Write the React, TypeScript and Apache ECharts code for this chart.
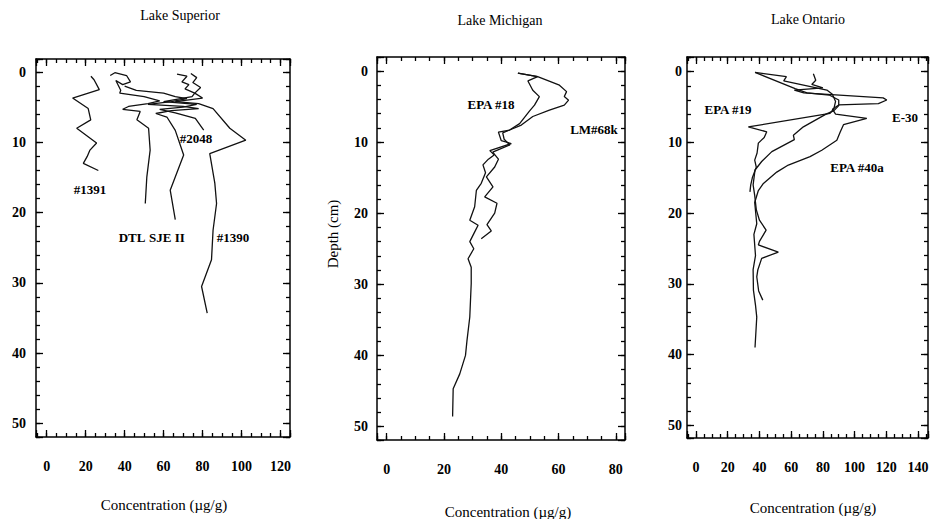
import React, { useEffect, useRef } from "react";
import * as echarts from "echarts";

type Pt = [number, number];

// ---- Lake Superior: [concentration µg/g, depth cm]
const sup1391: Pt[] = [[22.7,0.6],[24.3,1.1],[27.0,2.5],[13.3,3.7],[21.3,5.2],[22.6,6.8],[15.4,8.0],[25.6,10.1],[22.2,11.1],[20.8,12.0],[18.8,13.0],[26.5,14.0]];
const supDTL: Pt[] = [[32.6,0.5],[35,0.1],[41,0.5],[43,1.4],[39,1.8],[35.5,1.2],[38,2.6],[37.5,3.0],[50,3.5],[58,4.1],[52,4.5],[42,4.9],[39,5.3],[48,5.6],[46.3,6.8],[52.3,8],[53.1,11.1],[51.4,14.9],[50.6,18.7]];
const supSJE: Pt[] = [[40,2.0],[46,2.6],[60,3.0],[66,3.5],[72,3.8],[64,4.2],[52,4.6],[70,4.9],[78,5.2],[64,5.5],[56,5.9],[61.7,6.4],[66,8.3],[70.3,11.8],[63.4,16.8],[66,21]];
const sup2048: Pt[] = [[66.9,0.3],[72,0.6],[69.4,1.4],[73,1.8],[71,2.4],[76,3.0],[74.6,3.5],[60,4.2],[77,4.6],[70,5.0],[58,5.3],[66,5.8],[76.3,6.6],[80.6,8.25]];
const sup1390: Pt[] = [[74,0.2],[77,0.8],[75,1.5],[79,2.2],[76,3.0],[80,3.7],[66,4.2],[78,4.5],[85.4,5.2],[94,8],[102.2,9.7],[83.7,11.6],[86.3,15.8],[87.2,18.7],[85.4,22.5],[84.6,26.7],[79.5,30.5],[82.4,34.3]];

// ---- Lake Michigan
const mich18: Pt[] = [[45.8,0.3],[52.7,0.8],[49.3,1.4],[51,2.7],[53.3,3.6],[51.6,4.8],[49.9,5.6],[46.4,7.4],[42.9,8.3],[39,8.6],[40,9.8],[43.5,10.2],[36,11.2],[37.5,11.8],[35.5,12.4],[33.6,13.2],[34.5,14.3],[33,15.8],[31.3,16.8],[30.7,19.1],[29,21],[31.9,21.7],[30.5,22.8],[29,24],[30.4,25],[28.4,26.4],[29.5,27.6],[29.5,29.9],[29,34.6],[28,38],[27.5,40],[25.5,42.6],[23.2,44.7],[23,48.6]];
const mich68k: Pt[] = [[45.8,0.3],[52.7,0.8],[60.3,2],[62.8,2.9],[62,3.6],[63.5,4.1],[62,4.8],[56.8,5.5],[51,6.4],[47,7.6],[42.9,8.3],[40.5,8.7],[41,9.6],[43,10.4],[37,11.4],[39,12.4],[37.7,13.5],[34.8,14.9],[37.1,16.3],[34.2,17.7],[38.5,18.6],[37.7,20],[35,21.6],[36.5,22.5],[33,23.6]];

// ---- Lake Ontario
const ont19: Pt[] = [[37.2,0.1],[57,0.7],[55.3,1.3],[82.5,2.6],[86,3.2],[88,4.2],[87,5.2],[84.5,5.9],[33,7.8],[44.6,8.5],[43,9.3],[39.3,10.1],[38.5,11.5],[37,12.5],[38,13.5],[35.5,15],[34.5,16],[34,17]];
const ontE30: Pt[] = [[74,0.3],[75.5,1.2],[73,1.8],[80,2.3],[62,2.6],[68,3.0],[118,3.7],[120.3,4.0],[115,4.5],[90,4.7],[86,5.3],[88,6.0],[107.7,6.6],[93,7.5],[91,8.5],[88.8,9.7],[79.3,11.1],[71.9,12],[58.2,13.2],[50.9,14.2],[42.5,15.8],[39.3,16.8],[37,18.5],[38.3,21.5],[36.5,23],[37.5,26],[36,28],[36.2,30.9],[37.5,33],[38.3,34.7],[37.2,39]];
const ont40a: Pt[] = [[37.2,0.1],[62.5,2.4],[70,3.0],[84,3.3],[90,4.0],[90,4.8],[87,5.5],[82,6.0],[67.7,7.8],[61.4,9],[62,9.6],[47.8,11.3],[41.4,12.7],[37.2,13.9],[36,16],[37,17.5],[38,19.5],[40,21],[44.2,22.4],[40,24],[39.3,24.5],[51.9,25.5],[41.4,26.4],[39,28],[38.3,29],[39.5,31],[42.1,32.3]];

const panelTitles = ["Lake Superior", "Lake Michigan", "Lake Ontario"];
const panelSeries: Pt[][][] = [
  [sup1391, supDTL, supSJE, sup2048, sup1390],
  [mich18, mich68k],
  [ont19, ontE30, ont40a],
];
const xRanges: [number, number][] = [[-5.5, 124.9], [-3.4, 83.2], [-5.7, 146.3]];
const yRanges: [number, number][] = [[-1.85, 51.9], [-1.97, 51.9], [-2.08, 51.8]];
const xMajor = 20, xMinor = 5, yMajor = 10, yMinor = 2;

const FONT = "'Liberation Serif', 'Times New Roman', serif";

const grids = [
  { left: 36, top: 59, width: 254, height: 378 },
  { left: 377, top: 57, width: 248, height: 383 },
  { left: 687, top: 57, width: 241, height: 381 },
];
const yLabelMargins = [10, 9, 5];

const isMult = (v: number, m: number) => Math.abs(v / m - Math.round(v / m)) < 1e-6;

function makeAxes(dim: "x" | "y", g: number, range: [number, number], major: number, minor: number, labelMargin: number) {
  const span = range[1] - range[0];
  const base = (pos: string, isMajor: boolean, labels: boolean) => ({
    type: "value",
    gridIndex: g,
    position: pos,
    min: range[0],
    max: range[1],
    inverse: dim === "y",
    splitNumber: Math.round(span / (isMajor ? major : minor)),
    splitLine: { show: false },
    axisLine: { show: isMajor, onZero: false, lineStyle: { color: "#000", width: 1.5 } },
    axisTick: { show: true, inside: true, length: isMajor ? 7 : 4, lineStyle: { color: "#000", width: 1.3 } },
    axisLabel: {
      show: labels,
      margin: labelMargin,
      color: "#000",
      fontFamily: FONT,
      fontWeight: "bold",
      fontSize: 14,
      formatter: (v: number) => (isMult(v, major) ? String(Math.round(v)) : ""),
    },
  });
  if (dim === "x") {
    return [base("bottom", true, true), base("bottom", false, false), base("top", true, false), base("top", false, false)];
  }
  return [base("left", true, true), base("left", false, false), base("right", true, false), base("right", false, false)];
}

const curveLabels: { t: string; x: number; y: number }[] = [
  { t: "#1391", x: 90, y: 189 },
  { t: "#2048", x: 196, y: 138 },
  { t: "DTL", x: 132, y: 237 },
  { t: "SJE II", x: 167, y: 237 },
  { t: "#1390", x: 233, y: 237 },
  { t: "EPA #18", x: 491, y: 104 },
  { t: "LM#68k", x: 594, y: 129 },
  { t: "EPA #19", x: 728, y: 109 },
  { t: "E-30", x: 905, y: 117 },
  { t: "EPA #40a", x: 857, y: 167 },
];

export default function App() {
  const ref = useRef<HTMLDivElement>(null);
  useEffect(() => {
    document.body.style.margin = "0";
    if (!ref.current) return;
    const chart = echarts.init(ref.current, undefined, { renderer: "svg" });
    const xAxis: any[] = [];
    const yAxis: any[] = [];
    const series: any[] = [];
    grids.forEach((_, g) => {
      xAxis.push(...makeAxes("x", g, xRanges[g], xMajor, xMinor, 22));
      yAxis.push(...makeAxes("y", g, yRanges[g], yMajor, yMinor, yLabelMargins[g]));
      panelSeries[g].forEach((data) => {
        series.push({
          type: "line",
          xAxisIndex: g * 4,
          yAxisIndex: g * 4,
          data,
          showSymbol: false,
          symbol: "none",
          silent: true,
          lineStyle: { color: "#111", width: 1.3 },
        });
      });
    });
    const txt = (text: string, x: number, y: number, size: number, weight = "normal", rotation = 0) => ({
      type: "text",
      x,
      y,
      rotation,
      style: { text, fill: "#000", font: `${weight} ${size}px ${FONT}`, textAlign: "center", textVerticalAlign: "middle" },
    });
    const graphic: any[] = [
      txt(panelTitles[0], 180, 15, 14),
      txt(panelTitles[1], 500, 20, 14),
      txt(panelTitles[2], 808, 19, 14),
      txt("Concentration (µg/g)", 164, 505, 15),
      txt("Concentration (µg/g)", 508, 512, 15),
      txt("Concentration (µg/g)", 813, 508, 15),
      txt("Depth (cm)", 333, 234, 15, "normal", Math.PI / 2),
      ...curveLabels.map((c) => txt(c.t, c.x, c.y, 13, "bold")),
    ];
    chart.setOption({
      animation: false,
      backgroundColor: "#fff",
      grid: grids.map((g) => ({ ...g, containLabel: false })),
      xAxis,
      yAxis,
      series,
      graphic,
    });
    return () => chart.dispose();
  }, []);
  return <div ref={ref} style={{ width: 933, height: 519 }} />;
}
